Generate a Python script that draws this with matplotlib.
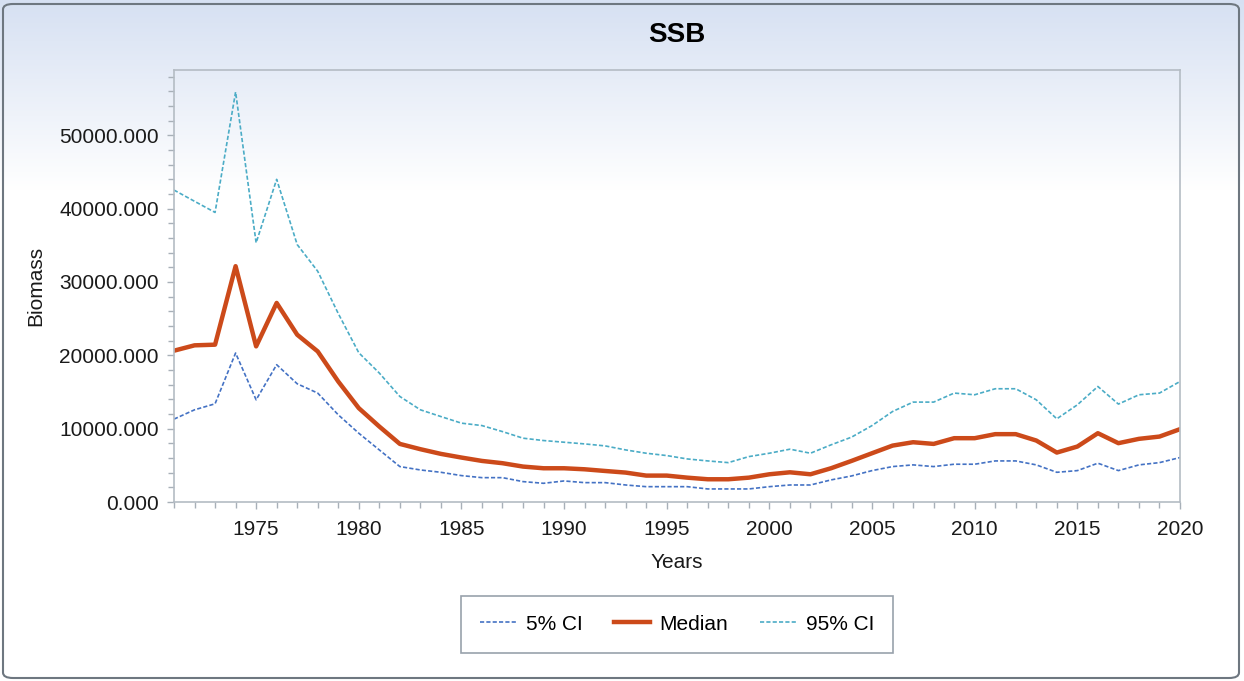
import numpy as np
import matplotlib
matplotlib.use('Agg')
from matplotlib import pyplot as plt
from matplotlib.patches import FancyBboxPatch
from matplotlib.ticker import MultipleLocator, FormatStrFormatter

plt.rcParams['font.family'] = ['Liberation Sans', 'DejaVu Sans']

# data
years = list(range(1971, 2021))

ci_05 = [11300, 12570, 13390, 20310, 13930, 18720, 16120, 14850, 11890, 9380,
         7100, 4830, 4370, 4050, 3600, 3320, 3320, 2780, 2550, 2870,
         2640, 2640, 2320, 2090, 2090, 2090, 1780, 1780, 1780, 2090,
         2320, 2320, 3010, 3550, 4280, 4830, 5060, 4830, 5150, 5150,
         5600, 5600, 5060, 4050, 4280, 5290, 4280, 5060, 5370, 6060]

median = [20630, 21360, 21450, 32150, 21220, 27140, 22810, 20530, 16430, 12800,
          10290, 7920, 7200, 6560, 6060, 5600, 5290, 4830, 4600, 4600,
          4460, 4230, 4010, 3600, 3600, 3320, 3100, 3100, 3320, 3780,
          4050, 3780, 4600, 5600, 6650, 7690, 8150, 7920, 8700, 8700,
          9250, 9250, 8380, 6740, 7560, 9380, 8020, 8610, 8920, 9930]

ci_95 = [42530, 41000, 39480, 55900, 35340, 43990, 35100, 31460, 25700, 20350,
         17580, 14390, 12570, 11650, 10750, 10420, 9600, 8700, 8380, 8150,
         7920, 7650, 7100, 6650, 6330, 5870, 5600, 5370, 6190, 6650,
         7200, 6650, 7790, 8840, 10420, 12340, 13620, 13620, 14850, 14620,
         15440, 15440, 13930, 11340, 13250, 15750, 13350, 14620, 14850, 16430]

fig = plt.figure(figsize=(12.44, 6.81), dpi=100)

# background gradient + rounded frame
bg = fig.add_axes([0, 0, 1, 1], zorder=-10)
grad = np.ones((681, 1, 3))
top = np.array([0.84, 0.88, 0.95])
for i in range(681):
    t = min(i / 190.0, 1.0)
    grad[i, 0, :] = top * (1 - t) + np.array([1.0, 1.0, 1.0]) * t
bg.imshow(grad, aspect='auto', extent=[0, 1, 0, 1], origin='upper')
bg.set_xlim(0, 1)
bg.set_ylim(0, 1)
bg.axis('off')
frame = FancyBboxPatch((3 / 1244, 3 / 681), 1236 / 1244, 674 / 681,
                       boxstyle='round,pad=0,rounding_size=0.008',
                       transform=bg.transAxes, facecolor='none',
                       edgecolor='#6e7780', linewidth=1.5)
bg.add_patch(frame)

ax = fig.add_axes([174 / 1244, 1 - 502 / 681, 1006 / 1244, 432 / 681])
ax.set_facecolor('none')

ax.plot(years, ci_05, color='#4472c4', linestyle='--', linewidth=1.2,
        dashes=(2.5, 1.3), label='5% CI')
ax.plot(years, median, color='#cc4a1a', linewidth=3.2, label='Median')
ax.plot(years, ci_95, color='#4bacc6', linestyle='--', linewidth=1.2,
        dashes=(2.5, 1.3), label='95% CI')

ax.set_xlim(1971, 2020)
ax.set_ylim(0, 58900)
ax.xaxis.set_major_locator(MultipleLocator(5))
ax.xaxis.set_minor_locator(MultipleLocator(1))
ax.yaxis.set_major_locator(MultipleLocator(10000))
ax.yaxis.set_minor_locator(MultipleLocator(2000))
ax.yaxis.set_major_formatter(FormatStrFormatter('%.3f'))

for s in ax.spines.values():
    s.set_color('#b4bcc4')
    s.set_linewidth(1.2)
ax.tick_params(which='both', colors='#a8b0b8', labelcolor='#1a1a1a',
               labelsize=15)
ax.tick_params(which='major', length=5, width=1)
ax.tick_params(which='minor', length=4, width=1)
ax.tick_params(axis='x', pad=8)
ax.tick_params(axis='y', pad=6)

ax.set_xlabel('Years', fontsize=15, color='#1a1a1a', labelpad=10)
ax.set_ylabel('Biomass', fontsize=15, color='#1a1a1a', labelpad=10)
ax.set_title('SSB', fontsize=20, fontweight='bold', pad=20)

leg = ax.legend(loc='center', bbox_to_anchor=(0.5, -0.283), ncol=3,
                fontsize=15, frameon=True, fancybox=False,
                handlelength=1.75, handletextpad=0.45, columnspacing=1.5,
                borderpad=0.9)
leg.get_frame().set_edgecolor('#7f8a96')
leg.get_frame().set_linewidth(1.2)

plt.savefig('out.png', dpi=100)
